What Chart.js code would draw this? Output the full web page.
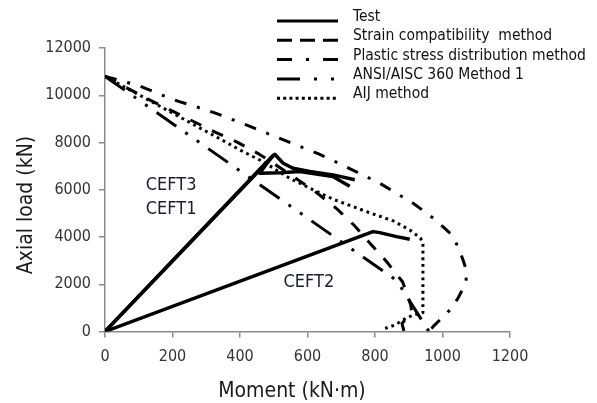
<!DOCTYPE html>
<html>
<head>
<meta charset="utf-8">
<script src="https://cdn.jsdelivr.net/npm/chart.js@4.4.0/dist/chart.umd.min.js"></script>
<style>
  html, body { margin: 0; padding: 0; background: #fff; }
</style>
</head>
<body>
<canvas id="chart" width="597" height="403"></canvas>
<script>
// values: moment (kN·m) and axial load (kN)
const xTicks = [0, 200, 400, 600, 800, 1000, 1200];
const yTicks = [0, 2000, 4000, 6000, 8000, 10000, 12000];

const ceft3M = [0, 503, 528, 557, 607, 676, 740];
const ceft3P = [0, 7500, 7120, 6910, 6770, 6630, 6420];
const ceft1M = [0, 497, 458, 520, 577, 675, 725];
const ceft1P = [0, 7440, 6700, 6720, 6770, 6560, 6150];
const ceft2M = [0, 794, 814, 864, 903];
const ceft2P = [0, 4228, 4185, 4016, 3903];

const strainM = [0, 135, 328, 393, 458, 545, 630, 688, 740, 785, 834, 882, 906, 908, 893, 880, 886];
const strainP = [10800, 9780, 8430, 8005, 7496, 6690, 5844, 5180, 4470, 3740, 2964, 2096, 1120, 900, 560, 340, 0];

const plasticM = [0, 102, 167, 218, 271, 325, 426, 529, 633, 684, 814, 913, 972, 1002, 1028, 1046, 1061, 1072, 1070, 1064, 1046, 1028, 1001, 975, 960];
const plasticP = [10800, 10397, 10016, 9740, 9508, 9254, 8703, 8110, 7517, 7178, 6276, 5429, 4806, 4425, 4087, 3580, 3028, 2520, 2200, 1900, 1418, 995, 614, 250, 0];

const aiscM = [0, 864, 960];
const aiscP = [10800, 2160, 0];

const aijM = [0, 319, 409, 468, 547, 607, 676, 775, 854, 903, 935, 942, 942, 913, 883, 859, 830];
const aijP = [10800, 8322, 7615, 7191, 6487, 6064, 5597, 5074, 4680, 4299, 3950, 3700, 800, 699, 487, 275, 130];

const legendNames = ['Test', 'Strain compatibility  method', 'Plastic stress distribution method', 'ANSI/AISC 360 Method 1', 'AIJ method'];

const fontCond = '"DejaVu Sans Condensed", "DejaVu Sans", sans-serif';

function pts(m, p) {
  return m.map((v, i) => ({ x: v, y: p[i] }));
}

const dashes = {
  test: [],
  strain: [12, 12],
  plastic: [12, 11, 3, 11],
  aisc: [24, 11, 3, 11, 3, 11],
  aij: [2.8, 3.9]
};

function line(label, data, dash, w) {
  return {
    label: label,
    data: data,
    showLine: true,
    borderColor: '#000',
    backgroundColor: '#000',
    borderWidth: w,
    borderDash: dash,
    borderCapStyle: 'butt',
    borderJoinStyle: 'round',
    pointRadius: 0,
    tension: 0,
    fill: false
  };
}

// legend + labels + axis titles
const extras = {
  id: 'extras',
  afterDraw(chart) {
    const ctx = chart.ctx;
    const xs = chart.scales.x, ys = chart.scales.y;
    const legDash = [[], [15, 8], [15, 14, 3, 14], [23, 14, 3, 14, 3, 14], [3, 3.2]];
    ctx.save();
    ctx.fillStyle = '#111';
    ctx.font = '15.5px ' + fontCond;
    ctx.textBaseline = 'middle';
    ctx.textAlign = 'left';
    legendNames.forEach((name, i) => {
      const ly = 21 + i * 19.3;
      ctx.strokeStyle = '#000';
      ctx.lineWidth = 3;
      ctx.setLineDash(legDash[i]);
      ctx.beginPath();
      ctx.moveTo(277, ly);
      ctx.lineTo(338, ly);
      ctx.stroke();
      ctx.fillText(name, 353, ly - 4);
    });
    ctx.setLineDash([]);

    // specimen labels
    ctx.fillStyle = '#1c1c30';
    ctx.font = '18px ' + fontCond;
    ctx.textAlign = 'center';
    [['CEFT3', 196, 6204], ['CEFT1', 196, 5167], ['CEFT2', 604, 2096]].forEach(t => {
      ctx.fillText(t[0], xs.getPixelForValue(t[1]), ys.getPixelForValue(t[2]));
    });

    // axis titles
    ctx.fillStyle = '#1a1a1a';
    ctx.font = '21px ' + fontCond;
    ctx.textBaseline = 'alphabetic';
    ctx.fillText('Moment (kN·m)', 292, 397);
    ctx.translate(32, 205);
    ctx.rotate(-Math.PI / 2);
    ctx.fillText('Axial load (kN)', 0, 0);
    ctx.restore();
  }
};

const ctx = document.getElementById('chart').getContext('2d');
const myChart = new Chart(ctx, {
  type: 'scatter',
  data: {
    datasets: [
      line('CEFT3', pts(ceft3M, ceft3P), dashes.test, 3.5),
      line('CEFT1', pts(ceft1M, ceft1P), dashes.test, 3.5),
      line('CEFT2', pts(ceft2M, ceft2P), dashes.test, 3.5),
      line(legendNames[1], pts(strainM, strainP), dashes.strain, 3),
      line(legendNames[2], pts(plasticM, plasticP), dashes.plastic, 3),
      line(legendNames[3], pts(aiscM, aiscP), dashes.aisc, 3),
      line(legendNames[4], pts(aijM, aijP), dashes.aij, 3)
    ]
  },
  options: {
    responsive: false,
    animation: false,
    layout: { padding: { top: 48, right: 87, left: 0, bottom: 0 } },
    plugins: {
      legend: { display: false },
      tooltip: { enabled: false }
    },
    scales: {
      x: {
        type: 'linear',
        min: 0,
        max: 1200,
        afterBuildTicks: s => { s.ticks = xTicks.map(v => ({ value: v })); },
        afterFit: s => { s.height = 71.5; },
        grid: { drawOnChartArea: false, drawTicks: true, tickLength: 6, color: '#8a8a8a', lineWidth: 1.5 },
        border: { color: '#8a8a8a', width: 1.5 },
        ticks: { color: '#333', padding: 10, maxRotation: 0, font: { family: fontCond, size: 16 }, callback: v => String(v) }
      },
      y: {
        type: 'linear',
        min: 0,
        max: 12000,
        afterBuildTicks: s => { s.ticks = yTicks.map(v => ({ value: v })); },
        afterFit: s => { s.width = 105; },
        grid: { drawOnChartArea: false, drawTicks: true, tickLength: 6, color: '#8a8a8a', lineWidth: 1.5 },
        border: { color: '#8a8a8a', width: 1.5 },
        ticks: { color: '#333', padding: 8, font: { family: fontCond, size: 16 }, callback: v => String(v) }
      }
    }
  },
  plugins: [extras]
});
</script>
</body>
</html>
